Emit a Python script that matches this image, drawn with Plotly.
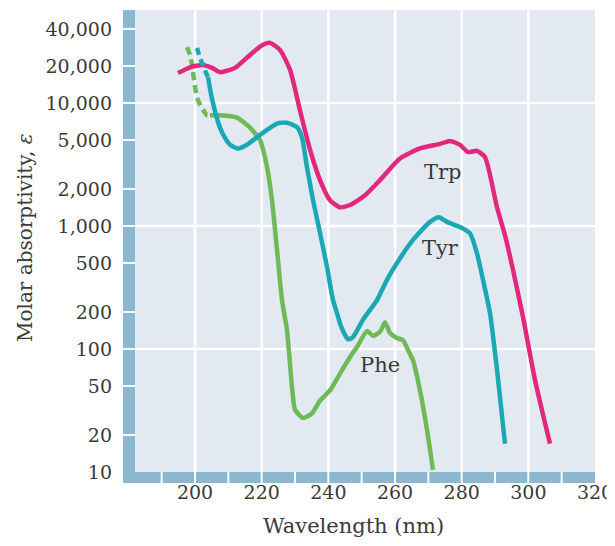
import math
import plotly.graph_objects as go

# ---------------- data ----------------
trp_x = [194.9, 198.5, 202.4, 205.1, 207.5, 212.0, 216.5, 220.1, 222.5, 225.5, 228.5, 231.5,
         234.5, 237.5, 240.5, 243.5, 246.5, 251.0, 255.5, 261.5, 267.5, 273.5, 276.5, 279.5,
         281.9, 284.6, 287.0, 290.6, 293.0, 295.4, 298.4, 302.0, 306.5]
trp_y = [17500, 19500, 20400, 19300, 17800, 19300, 24600, 29500, 30800, 27000, 18600, 8700,
         4170, 2360, 1620, 1420, 1480, 1780, 2360, 3540, 4270, 4650, 4920, 4560,
         3990, 4080, 3630, 1420, 840, 440, 182, 56, 17]

tyr_dash_x = [200.6, 201.5, 202.7, 203.9]
tyr_dash_y = [28000, 23300, 19200, 16200]
tyr_x = [203.9, 205.1, 207.5, 209.0, 210.5, 212.9, 215.6, 219.5, 224.6, 227.6, 230.6,
         232.1, 233.6, 235.4, 237.5, 239.6, 241.4, 242.6, 243.8, 245.0, 245.9, 247.4, 250.4,
         254.6, 257.6, 260.6, 265.4, 270.5, 273.2, 275.6, 279.5, 282.5, 284.6, 286.4, 288.5,
         290.6, 293.0]
tyr_y = [16200, 10800, 6300, 5200, 4580, 4270, 4580, 5500, 6800, 6900, 6360,
         5230, 3000, 1630, 880, 465, 250, 196, 153, 130, 120, 125, 173,
         250, 365, 500, 770, 1080, 1180, 1080, 980, 870, 600, 365, 196,
         68, 17]

phe_dash_x = [197.6, 198.5, 199.1, 200.0, 200.9, 202.1, 203.6, 204.5]
phe_dash_y = [28500, 24600, 20400, 13500, 10500, 9100, 7950, 7950]
phe_x = [204.5, 207.5, 212.6, 216.5, 219.5, 221.6, 223.1, 224.6, 226.1, 227.6, 229.1, 230.0,
         232.4, 235.1, 237.5, 240.5, 243.5, 246.5, 248.6, 251.6, 253.4, 255.5, 257.0, 258.5,
         260.6, 262.4, 263.9, 265.4, 267.5, 269.6, 271.4]
phe_y = [7950, 7950, 7600, 6300, 5000, 3020, 1620, 640, 250, 142, 49, 32,
         27.5, 30, 38, 46, 63, 86, 104, 140, 128, 138, 165, 135,
         123, 118, 98, 81, 46, 22, 10.4]

x_ticks = [200, 220, 240, 260, 280, 300, 320]
x_ticktext = ["200", "220", "240", "260", "280", "300", "320"]
x_separators = [190, 200, 210, 220, 230, 240, 250, 260, 270, 280, 290, 300, 310]
y_ticks = [10, 20, 50, 100, 200, 500, 1000, 2000, 5000, 10000, 20000, 40000]
y_ticktext = ["10", "20", "50", "100", "200", "500", "1,000", "2,000", "5,000",
              "10,000", "20,000", "40,000"]
y_separators = [20, 50, 100, 200, 500, 1000, 2000, 5000, 10000, 20000, 40000]
x_grid = [200, 220, 240, 260, 280, 300]
y_grid = [100, 1000, 10000]

labels = ["Trp", "Tyr", "Phe"]
label_x = [274.4, 273.5, 255.5]
label_y = [2750, 660, 74]

# ---------------- styling ----------------
PINK = "#e2287c"
TEAL = "#1aa8b5"
GREEN = "#6eba57"
BG = "#e3e9f1"
BAR = "#8bb8d0"
TXT = "#3a3a3a"
FONT = "DejaVu Serif"
LW = 4.5

fig = go.Figure()
fig.add_trace(go.Scatter(x=phe_dash_x, y=phe_dash_y, mode="lines",
                         line=dict(color=GREEN, width=LW, dash="8px,5px", shape="spline", smoothing=0.6)))
fig.add_trace(go.Scatter(x=phe_x, y=phe_y, mode="lines",
                         line=dict(color=GREEN, width=LW, shape="spline", smoothing=0.5)))
fig.add_trace(go.Scatter(x=trp_x, y=trp_y, mode="lines",
                         line=dict(color=PINK, width=LW, shape="spline", smoothing=0.6)))
fig.add_trace(go.Scatter(x=tyr_dash_x, y=tyr_dash_y, mode="lines",
                         line=dict(color=TEAL, width=LW, dash="7px,5px", shape="spline", smoothing=0.6)))
fig.add_trace(go.Scatter(x=tyr_x, y=tyr_y, mode="lines",
                         line=dict(color=TEAL, width=LW, shape="spline", smoothing=0.6)))

shapes = []
# gridlines
for gx in x_grid:
    shapes.append(dict(type="line", xref="x", yref="paper", x0=gx, x1=gx, y0=0, y1=1,
                       line=dict(color="white", width=2.5), layer="below"))
for gy in y_grid:
    shapes.append(dict(type="line", xref="paper", yref="y", x0=0, x1=1, y0=gy, y1=gy,
                       line=dict(color="white", width=2.5), layer="below"))
# axis bars
bx = -12 / 460
by = -11 / 462
shapes.append(dict(type="rect", xref="paper", yref="paper", x0=bx, x1=0, y0=by, y1=1,
                   fillcolor=BAR, line=dict(width=0), layer="below"))
shapes.append(dict(type="rect", xref="paper", yref="paper", x0=bx, x1=1, y0=by, y1=0,
                   fillcolor=BAR, line=dict(width=0), layer="below"))
# white separators on the bars
for sx in x_separators:
    shapes.append(dict(type="line", xref="x", yref="paper", x0=sx, x1=sx, y0=by, y1=0,
                       line=dict(color="white", width=2), layer="below"))
for sy in y_separators:
    shapes.append(dict(type="line", xref="paper", yref="y", x0=bx, x1=0, y0=sy, y1=sy,
                       line=dict(color="white", width=2), layer="below"))

annotations = []
for t, lx, ly in zip(labels, label_x, label_y):
    annotations.append(dict(x=lx, y=math.log10(ly), xref="x", yref="y", text=t,
                            showarrow=False, font=dict(family=FONT, size=21, color=TXT)))
annotations.append(dict(x=(353 - 135) / 460, y=(472 - 526) / 462, xref="paper", yref="paper",
                        text="Wavelength (nm)", showarrow=False, yanchor="middle",
                        font=dict(family=FONT, size=21, color=TXT)))
annotations.append(dict(x=(25 - 135) / 460, y=(472 - 238) / 462, xref="paper", yref="paper",
                        text="Molar absorptivity, <i>ε</i>", showarrow=False, textangle=-90,
                        xanchor="center", yanchor="middle",
                        font=dict(family=FONT, size=20, color=TXT)))

fig.update_layout(
    width=607, height=530,
    margin=dict(l=127, r=20, t=2, b=66),
    paper_bgcolor="white", plot_bgcolor=BG,
    showlegend=False,
    shapes=shapes, annotations=annotations,
    font=dict(family=FONT, color=TXT, size=19),
    xaxis=dict(range=[182, 320], tickvals=x_ticks, ticktext=x_ticktext, showgrid=False,
               zeroline=False, showline=False, ticks="", ticklabelstandoff=7,
               ticklabeloverflow="allow",
               tickfont=dict(family=FONT, size=19, color=TXT)),
    yaxis=dict(type="log", range=[1, 4.756], tickvals=y_ticks, ticktext=y_ticktext,
               showgrid=False, zeroline=False, showline=False, ticks="",
               ticklabelstandoff=22, tickfont=dict(family=FONT, size=19, color=TXT)),
)

fig.write_html("out.html")
